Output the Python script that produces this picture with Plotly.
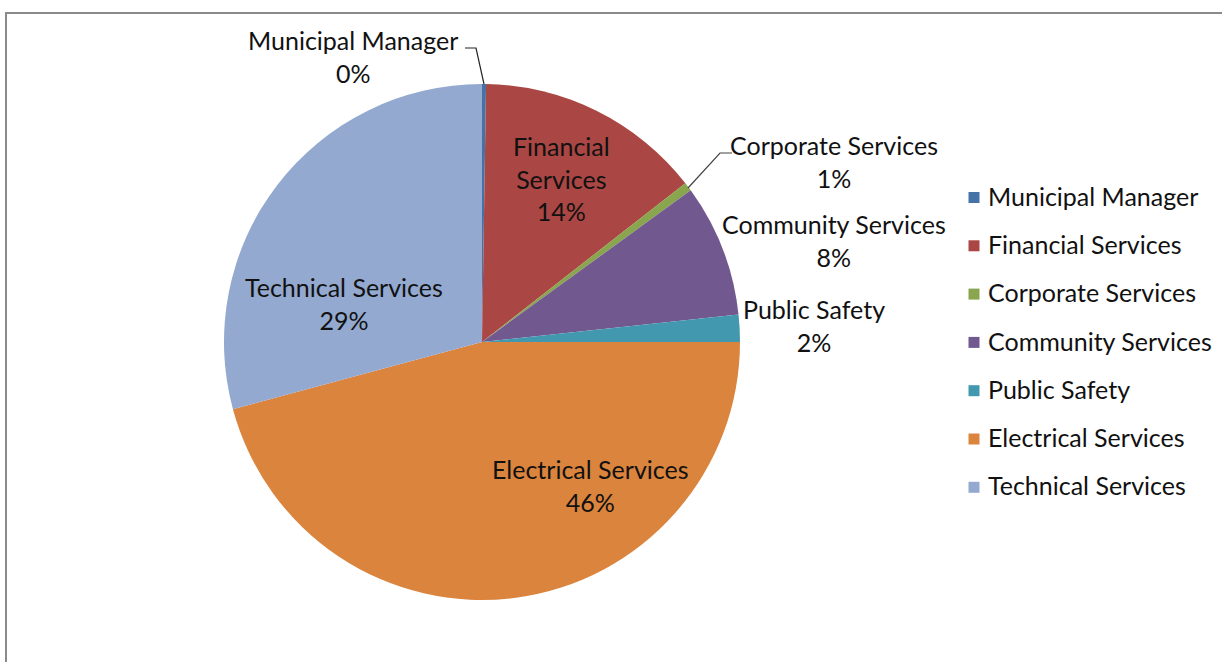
import plotly.graph_objects as go

# Share of budget by department (percent)
departments = [
    "Municipal Manager",
    "Financial Services",
    "Corporate Services",
    "Community Services",
    "Public Safety",
    "Electrical Services",
    "Technical Services",
]
shares = [0.25, 14.2, 0.55, 8.3, 1.7, 45.8, 29.2]
colors = ["#4572A7", "#AA4643", "#89A54E", "#71588F", "#4198AF", "#DB843D", "#93A9D0"]

W, H = 1222, 662
FONT = "Lato"
TEXT_COLOR = "#111111"
FONT_SIZE = 25


def px(x):
    return x / W


def py(y):
    return 1 - y / H


total = sum(shares)
pct = [f"{round(v / total * 100):.0f}%" for v in shares]

fig = go.Figure()

# Pie: centre (482, 342), radius 258 px
cx, cy, r = 482, 342, 258
fig.add_trace(go.Pie(
    labels=departments,
    values=shares,
    sort=False,
    direction="clockwise",
    rotation=0,
    marker=dict(colors=colors, line=dict(width=0)),
    textinfo="none",
    hoverinfo="label+percent",
    showlegend=False,
    domain=dict(x=[px(cx - r), px(cx + r)], y=[py(cy + r), py(cy - r)]),
))

# Legend built from squares and labels on a side axis
leg_top, leg_step = 197.5, 48.3
idx = list(range(len(departments)))
fig.add_trace(go.Scatter(
    x=[6] * len(departments), y=idx, mode="markers",
    marker=dict(symbol="square", size=11, color=colors, line=dict(width=0)),
    hoverinfo="skip", showlegend=False, cliponaxis=False,
))
fig.add_trace(go.Scatter(
    x=[20] * len(departments), y=[i + 0.04 for i in idx], mode="text",
    text=departments, textposition="middle right",
    textfont=dict(family=FONT, size=FONT_SIZE, color=TEXT_COLOR),
    hoverinfo="skip", showlegend=False, cliponaxis=False,
))
leg_x0 = 968
fig.update_xaxes(domain=[px(leg_x0), 1.0], range=[0, W - leg_x0], visible=False, fixedrange=True)
fig.update_yaxes(
    domain=[py(leg_top + 6.5 * leg_step), py(leg_top - 0.5 * leg_step)],
    range=[6.5, -0.5], visible=False, fixedrange=True,
)

# Slice labels
label_pos = {
    "Municipal Manager": (353, 56.5, "Municipal Manager"),
    "Financial Services": (561, 178.5, "Financial<br>Services"),
    "Corporate Services": (834, 161, "Corporate Services"),
    "Community Services": (834, 240, "Community Services"),
    "Public Safety": (814, 325, "Public Safety"),
    "Electrical Services": (590, 485.5, "Electrical Services"),
    "Technical Services": (344, 303, "Technical Services"),
}
annotations = []
for name, p in zip(departments, pct):
    x, y, txt = label_pos[name]
    annotations.append(dict(
        x=px(x), y=py(y), xref="paper", yref="paper",
        text=f"{txt}<br>{p}", showarrow=False,
        xanchor="center", yanchor="middle", align="center",
        font=dict(family=FONT, size=FONT_SIZE, color=TEXT_COLOR),
    ))

shapes = [
    # chart frame
    dict(type="rect", xref="paper", yref="paper",
         x0=px(6), x1=1.02, y0=-0.02, y1=py(13),
         line=dict(color="#8a8a8a", width=2), fillcolor="rgba(0,0,0,0)", layer="below"),
    # leader line: Municipal Manager
    dict(type="path", xref="paper", yref="paper",
         path=f"M {px(465)},{py(48)} L {px(476)},{py(48)} L {px(484)},{py(84)}",
         line=dict(color="#222222", width=1.2)),
    # leader line: Corporate Services
    dict(type="path", xref="paper", yref="paper",
         path=f"M {px(732)},{py(153)} L {px(720)},{py(153)} L {px(688)},{py(188)}",
         line=dict(color="#444444", width=1.2)),
]

fig.update_layout(
    width=W, height=H,
    margin=dict(l=0, r=0, t=0, b=0),
    paper_bgcolor="white", plot_bgcolor="rgba(0,0,0,0)",
    annotations=annotations, shapes=shapes,
    font=dict(family=FONT, color=TEXT_COLOR),
)

fig.write_html("out.html")
